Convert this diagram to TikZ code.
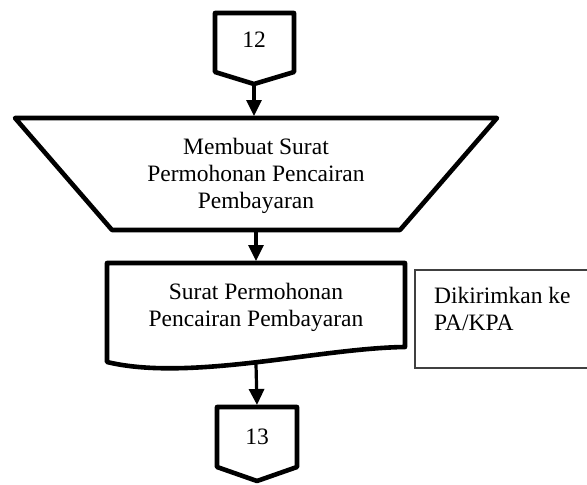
\documentclass[tikz,border=0pt]{standalone}
\usepackage{fontspec}
\setmainfont{Liberation Serif}
\usetikzlibrary{arrows.meta}

\begin{document}
\begin{tikzpicture}[x=1pt,y=-1pt,
  shapeline/.style={line width=4.6pt, line join=round, fill=white},
  flow/.style={line width=3.2pt, -{Triangle[width=15pt,length=16pt]}},
  txt/.style={font=\fontsize{23.5}{27}\selectfont, align=center, inner sep=0pt},
  notebox/.style={draw=black!75, line width=1.5pt}]
  \useasboundingbox (0,0) rectangle (587,485);

  % off-page connector 12
  \draw[shapeline] (215,13) -- (294,13) -- (294,72) -- (254,84) -- (215,72) -- cycle;
  \coordinate (c12) at (254,86);
  \node[txt] (n12) at (254,40) {12};

  % manual operation (trapezoid)
  \draw[shapeline] (15,118) -- (497,118) -- (400,230) -- (112,230) -- cycle;
  \coordinate (trapT) at (254,116);
  \coordinate (trapB) at (256,232);
  \node[txt] (make) at (256,176) {Membuat Surat\\Permohonan Pencairan\\Pembayaran};

  % document shape
  \draw[shapeline] (107,263) -- (405,263) -- (405,347)
    .. controls (320,348) and (190,382) .. (107,362) -- cycle;
  \coordinate (docT) at (256,261);
  \coordinate (docB) at (256,364);
  \node[txt] (doc) at (256,307) {Surat Permohonan\\Pencairan Pembayaran};

  % side note
  \draw[notebox] (587,270) -- (415,270) -- (415,368) -- (587,368);
  \node[txt, align=left, anchor=west] (note) at (434,309) {Dikirimkan ke\\PA/KPA};

  % off-page connector 13
  \draw[shapeline] (217,407) -- (297,407) -- (297,467) -- (257,481) -- (217,467) -- cycle;
  \coordinate (c13) at (257,405);
  \node[txt] (n13) at (257,437) {13};

  % flow arrows
  \draw[flow] (c12) -- (trapT);
  \draw[flow] (trapB) -- (docT);
  \draw[flow] (docB) -- (c13);
\end{tikzpicture}
\end{document}
